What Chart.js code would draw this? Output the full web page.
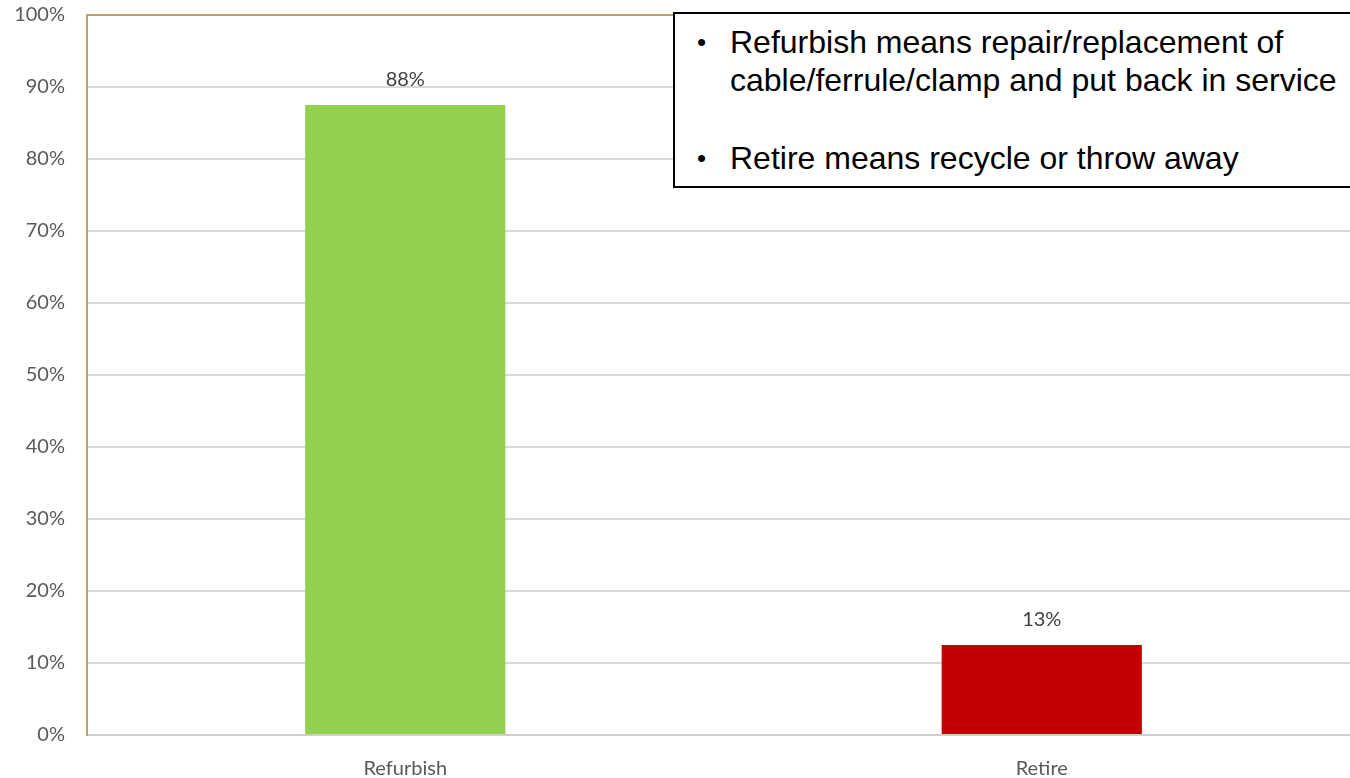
<!DOCTYPE html>
<html>
<head>
<meta charset="utf-8">
<script src="https://cdn.jsdelivr.net/npm/chart.js@4.4.1/dist/chart.umd.min.js"></script>
<style>
  html, body { margin: 0; padding: 0; background: #fff; overflow: hidden; }
  #wrap { position: relative; width: 1360px; height: 778px; overflow: hidden; }
  #c { position: absolute; left: 0; top: -19px; }
  #note {
    position: absolute; left: 673px; top: 12px; width: 700px; height: 176px;
    border: 2px solid #000; background: #fff; box-sizing: border-box;
    font-family: "Liberation Sans", Arial, sans-serif; font-size: 32px; color: #000;
  }
  #note ul { margin: 0; padding: 0; list-style: none; }
  #note li { position: relative; padding-left: 55px; line-height: 38px; }
  #note li::before { content: "•"; position: absolute; left: 22px; font-size: 26px; }
  #note li.first { margin-top: 9px; }
  #note li.second { margin-top: 40px; }
</style>
</head>
<body>
<div id="wrap">
  <canvas id="c" width="1360" height="797"></canvas>
  <div id="note">
    <ul>
      <li class="first">Refurbish means repair/replacement of<br>cable/ferrule/clamp and put back in service</li>
      <li class="second">Retire means recycle or throw away</li>
    </ul>
  </div>
</div>
<script>
const categories = ["Refurbish", "Retire"];
const values = [87.5, 12.5];
const valueLabels = ["88%", "13%"];
const barColors = ["#92D050", "#C00000"];
const yTicks = [0, 10, 20, 30, 40, 50, 60, 70, 80, 90, 100];

const FONT = "Lato, 'Open Sans', sans-serif";

const dataLabelPlugin = {
  id: "dataLabels",
  afterDatasetsDraw(chart) {
    const ctx = chart.ctx;
    const meta = chart.getDatasetMeta(0);
    ctx.save();
    ctx.font = "20px " + FONT;
    ctx.fillStyle = "#404040";
    ctx.textAlign = "center";
    ctx.textBaseline = "middle";
    meta.data.forEach((bar, i) => {
      ctx.fillText(valueLabels[i], bar.x, bar.y - 25);
    });
    ctx.restore();
  }
};

new Chart(document.getElementById("c"), {
  type: "bar",
  data: {
    labels: categories,
    datasets: [{
      data: values,
      backgroundColor: barColors,
      borderWidth: 0,
      categoryPercentage: 1,
      barPercentage: 0.3145
    }]
  },
  options: {
    responsive: false,
    animation: false,
    layout: { padding: { top: 5, right: 0, left: 0, bottom: 0 } },
    plugins: { legend: { display: false }, tooltip: { enabled: false } },
    scales: {
      x: {
        grid: { display: false, drawTicks: false },
        border: { display: false },
        ticks: { color: "#595959", font: { family: FONT, size: 20 }, padding: 22 },
        afterFit(s) { s.height = 43; }
      },
      y: {
        min: 0, max: 100,
        afterBuildTicks(s) { s.ticks = yTicks.map(v => ({ value: v })); },
        grid: {
          drawTicks: false,
          lineWidth: 2,
          color: ctx => ctx.tick && ctx.tick.value === 100 ? "#B5A36A" : (ctx.tick && ctx.tick.value === 0 ? "#D0CEC8" : "#D9D9D9")
        },
        border: { display: true, color: "#B5A36A", width: 2 },
        ticks: {
          color: "#595959", font: { family: FONT, size: 20 }, padding: 22,
          callback: v => v + "%"
        },
        afterFit(s) { s.width = 87; }
      }
    }
  },
  plugins: [dataLabelPlugin]
});
</script>
</body>
</html>
